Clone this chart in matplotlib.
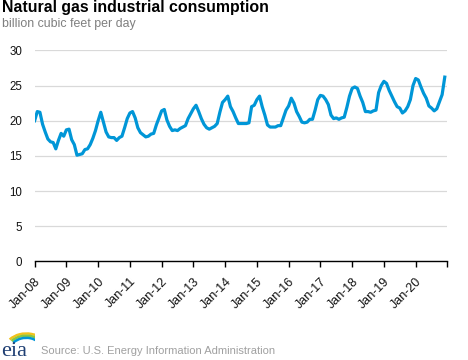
import matplotlib
matplotlib.use("Agg")
import matplotlib.pyplot as plt
from matplotlib.patches import Arc

plt.rcParams['font.family'] = ['Liberation Sans', 'DejaVu Sans']

# Monthly natural gas industrial consumption, Jan-2008 .. Dec-2020 (Bcf/d)
y2008 = [20.0, 21.3, 21.2, 19.5, 18.4, 17.4, 17.0, 16.9, 16.0, 17.2, 18.2, 17.8]
y2009 = [18.7, 18.8, 17.3, 16.6, 15.1, 15.2, 15.3, 15.9, 16.0, 16.6, 17.5, 18.6]
y2010 = [20.0, 21.2, 19.8, 18.4, 17.7, 17.6, 17.6, 17.2, 17.6, 17.8, 19.0, 20.3]
y2011 = [21.1, 21.3, 20.4, 19.0, 18.3, 18.0, 17.7, 17.8, 18.1, 18.2, 19.4, 20.4]
y2012 = [21.4, 21.6, 20.1, 19.2, 18.6, 18.7, 18.6, 18.9, 19.1, 19.3, 20.3, 21.0]
y2013 = [21.7, 22.2, 21.3, 20.3, 19.5, 19.0, 18.8, 19.0, 19.2, 19.6, 21.2, 22.6]
y2014 = [23.0, 23.5, 22.0, 21.3, 20.4, 19.6, 19.6, 19.6, 19.6, 19.7, 22.0, 22.2]
y2015 = [23.0, 23.5, 22.0, 20.8, 19.4, 19.1, 19.1, 19.1, 19.3, 19.3, 20.4, 21.5]
y2016 = [22.1, 23.2, 22.5, 21.3, 20.6, 19.8, 19.7, 19.8, 20.2, 20.2, 21.5, 23.0]
y2017 = [23.6, 23.5, 23.0, 22.3, 20.8, 20.3, 20.4, 20.2, 20.4, 20.5, 21.9, 23.5]
y2018 = [24.6, 24.8, 24.6, 23.5, 22.6, 21.3, 21.3, 21.2, 21.4, 21.5, 24.0, 25.0]
y2019 = [25.6, 25.3, 24.3, 23.5, 22.7, 22.0, 21.8, 21.1, 21.4, 22.0, 23.0, 25.0]
y2020 = [26.0, 25.8, 24.8, 23.9, 23.2, 22.1, 21.8, 21.4, 21.7, 22.7, 23.7, 26.2]

values = (y2008 + y2009 + y2010 + y2011 + y2012 + y2013 + y2014 + y2015
          + y2016 + y2017 + y2018 + y2019 + y2020)
tick_labels = ['Jan-08', 'Jan-09', 'Jan-10', 'Jan-11', 'Jan-12', 'Jan-13', 'Jan-14',
               'Jan-15', 'Jan-16', 'Jan-17', 'Jan-18', 'Jan-19', 'Jan-20']
y_ticks = [0, 5, 10, 15, 20, 25, 30]

months = list(range(len(values)))

fig = plt.figure(figsize=(4.68, 3.6), dpi=100)
ax = fig.add_axes([0.074, 0.274, 0.882, 0.586])

ax.plot(months, values, color='#0096D7', linewidth=2.3, solid_joinstyle='round')

ax.set_xlim(0, 156)
ax.set_ylim(0, 30)
ax.set_yticks(y_ticks)
ax.set_yticklabels([str(v) for v in y_ticks], fontsize=8.3, color='#111111')
ax.tick_params(axis='y', length=0, pad=9)
ax.grid(axis='y', color='#d9d9d9', linewidth=0.9)
ax.set_axisbelow(True)

xt = list(range(0, 157, 12))
ax.set_xticks(xt)
ax.set_xticklabels(tick_labels + [''], fontsize=9, rotation=45, ha='right',
                   rotation_mode='anchor', color='#111111')
ax.tick_params(axis='x', length=4, width=1, color='black', pad=6)

for s in ['top', 'right', 'left']:
    ax.spines[s].set_visible(False)
ax.spines['bottom'].set_color('black')
ax.spines['bottom'].set_linewidth(1.0)

fig.text(0.004, 0.966, 'Natural gas industrial consumption', fontsize=11.4,
         fontweight='bold', color='black', va='baseline')
fig.text(0.004, 0.924, 'billion cubic feet per day', fontsize=8.9,
         color='#7f7f7f', va='baseline')
fig.text(0.088, 0.016, 'Source: U.S. Energy Information Administration', fontsize=8,
         color='#a0a0a0', va='baseline')

# eia logo
fig.text(0.002, 0.012, 'eia', fontsize=16, family='Liberation Serif',
         color='#1f3f73', va='baseline')
lax = fig.add_axes([0.0, 0.012, 0.075, 0.09])
lax.set_xlim(0, 1)
lax.set_ylim(0, 1)
lax.axis('off')
for r, c in [(1.3, '#f2c21b'), (1.15, '#8cc63f'), (1.0, '#0096D7')]:
    lax.add_patch(Arc((0.75, 0.1), r, r * 0.9, theta1=15, theta2=140,
                      color=c, linewidth=1.8))

fig.savefig('out.png', dpi=100)
